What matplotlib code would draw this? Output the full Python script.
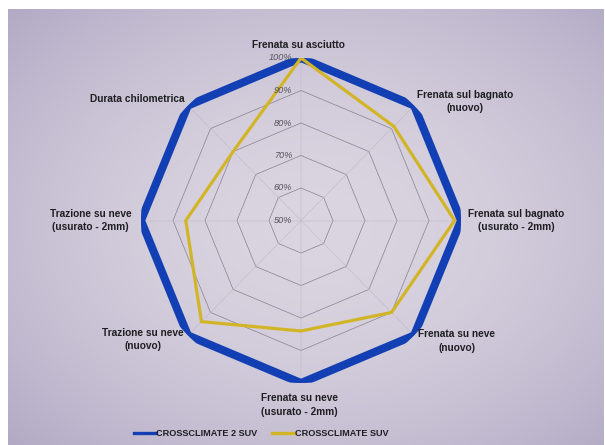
import numpy as np
import matplotlib
matplotlib.use("Agg")
import matplotlib.pyplot as plt

plt.rcParams["font.family"] = ["Liberation Sans", "DejaVu Sans"]

# assi del radar (senso orario dall'alto)
CATEGORIES = [
    "Frenata su asciutto",
    "Frenata sul bagnato\n(nuovo)",
    "Frenata sul bagnato\n(usurato - 2mm)",
    "Frenata su neve\n(nuovo)",
    "Frenata su neve\n(usurato - 2mm)",
    "Trazione su neve\n(nuovo)",
    "Trazione su neve\n(usurato - 2mm)",
    "Durata chilometrica",
]
CC2_SUV = [100, 100, 100, 100, 100, 100, 100, 100]
CC_SUV = [100, 91, 98, 90, 84, 94, 86, 80]
RINGS = [50, 60, 70, 80, 90, 100]
RING_LABELS = ["50%", "60%", "70%", "80%", "90%", "100%"]

BLUE = "#1240b4"
YELLOW = "#d2b526"
TEXT = "#1e1e22"

W, H = 605, 445
fig = plt.figure(figsize=(W / 100, H / 100), dpi=100, facecolor="white")

# sfondo (schermo fotografato): leggero gradiente lavanda
bg = fig.add_axes([8 / W, 0, (W - 10) / W, (H - 9) / H])
yy, xx = np.mgrid[0:1:200j, 0:1:270j]
d = np.sqrt(((xx - 0.52) / 0.78) ** 2 + ((yy - 0.5) / 0.78) ** 2)
light = np.array([219, 213, 225]) / 255
dark = np.array([172, 163, 192]) / 255
t = np.clip(d, 0, 1)[..., None] ** 1.8
bg.imshow(light * (1 - t) + dark * t, aspect="auto", interpolation="bilinear")
bg.axis("off")

# asse polare (leggermente schiacciato in orizzontale come nella foto)
cx, cy, RX, RY = 301, 220.5, 160, 162.5
ax = fig.add_axes([(cx - RX) / W, (H - cy - RY) / H, 2 * RX / W, 2 * RY / H],
                  projection="polar")
ax.set_aspect("auto")
ax.patch.set_alpha(0)
ax.set_theta_offset(np.pi / 2)
ax.set_theta_direction(-1)
ax.set_ylim(50, 100)
ax.grid(False)
ax.set_xticks([])
ax.set_yticks([])
ax.spines["polar"].set_visible(False)

n = len(CATEGORIES)
angles = np.arange(n) * 2 * np.pi / n
closed = np.append(angles, angles[0])

for r in RINGS[1:]:
    ax.plot(closed, [r] * (n + 1), color="#86818c", lw=0.5, zorder=1)
for a in angles:
    ax.plot([a, a], [50, 100], color="#bdb7c4", lw=0.35, zorder=1)

ax.plot(closed, CC2_SUV + CC2_SUV[:1], color=BLUE, lw=5.8,
        solid_joinstyle="miter", zorder=3, label="CROSSCLIMATE 2 SUV")
ax.plot(closed, CC_SUV + CC_SUV[:1], color=YELLOW, lw=2.3,
        solid_joinstyle="miter", zorder=4, label="CROSSCLIMATE SUV")

for r, lab in zip(RINGS, RING_LABELS):
    ax.annotate(lab, xy=(0, r), xytext=(-6.5, 0), textcoords="offset points",
                ha="right", va="center", fontsize=6.6, style="italic",
                color="#55525a", zorder=5)

# posizione etichette (offset in punti, allineamento)
label_pos = [
    ((-2, 9), "center"),
    ((2, 3), "left"),
    ((5, 0), "left"),
    ((3, -4), "left"),
    ((-1, -16), "center"),
    ((-3, -3), "right"),
    ((-7, 0), "right"),
    ((-2, 5), "right"),
]
for a, cat, (off, ha) in zip(angles, CATEGORIES, label_pos):
    ax.annotate(cat, xy=(a, 100), xytext=off, textcoords="offset points",
                ha=ha, va="center", multialignment="center",
                fontsize=7.3, fontweight="bold", color=TEXT,
                linespacing=1.45, zorder=6)

leg = fig.legend(loc="center", bbox_to_anchor=(261 / W, 1 - 434 / H), ncol=2,
                 frameon=False, handlelength=2.4,
                 handletextpad=0.05, columnspacing=1.6,
                 prop={"weight": "bold", "size": 6.6})
for line in leg.get_lines():
    line.set_linewidth(2.4)
for txt in leg.get_texts():
    txt.set_color(TEXT)

fig.savefig("out.png", dpi=100, facecolor=fig.get_facecolor())
